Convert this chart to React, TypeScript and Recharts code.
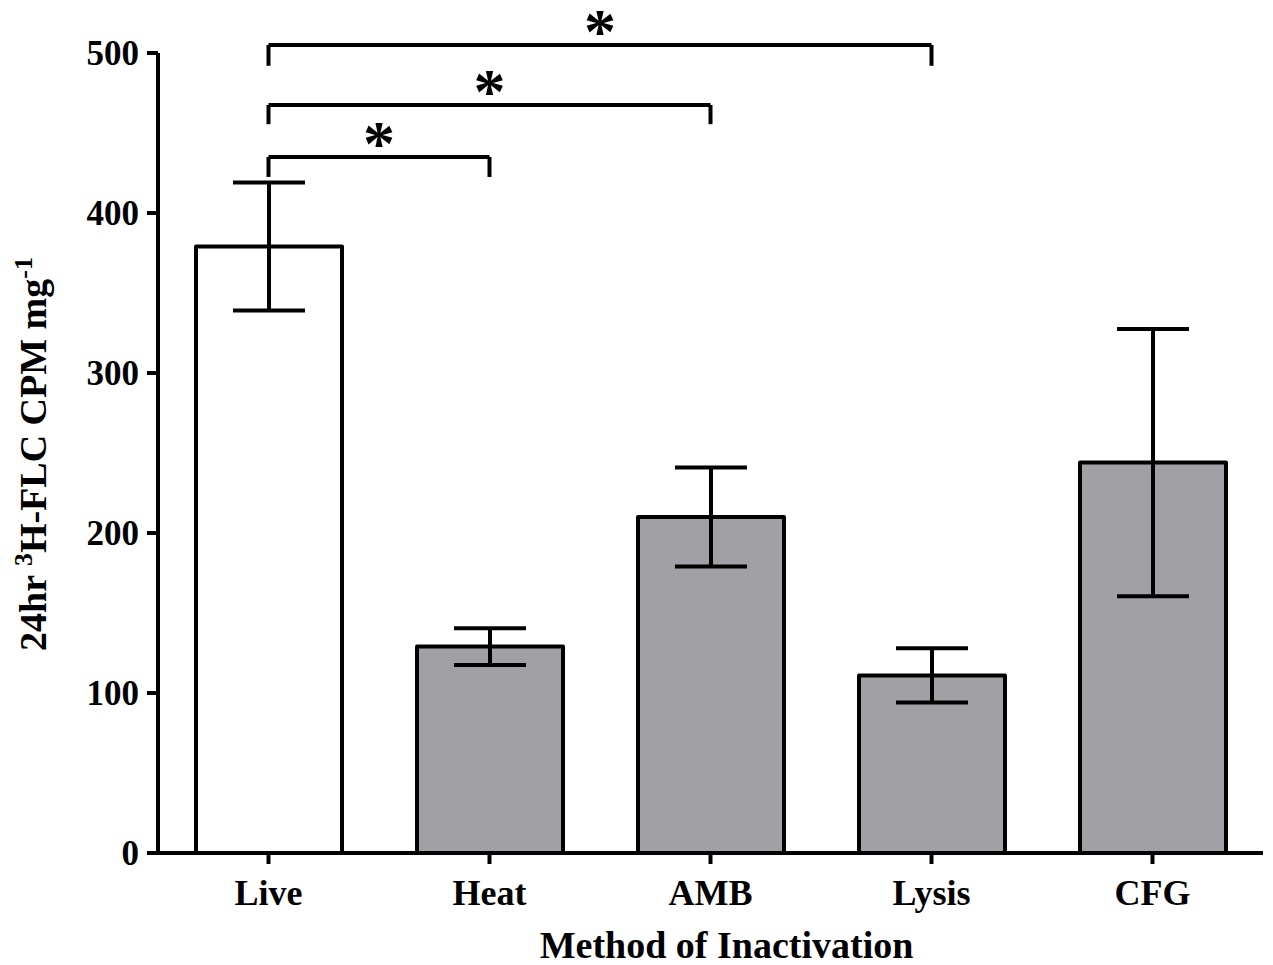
import { Bar, BarChart, Cell, ErrorBar, ReferenceLine, XAxis, YAxis } from 'recharts';

const categories = ['Live', 'Heat', 'AMB', 'Lysis', 'CFG'];
const means = [379, 129, 210, 111, 244];
const errors = [40, 11.5, 31, 17, 83.5];
const yTicks = [0, 100, 200, 300, 400, 500];

// significance brackets: [from, to, bar height, end drop]
const brackets: [string, string, number, number][] = [
  ['Live', 'Heat', 435, 422.5],
  ['Live', 'AMB', 467.5, 455.5],
  ['Live', 'Lysis', 505, 492],
];

const data = categories.map((name, i) => ({ name, mean: means[i], err: errors[i] }));

const FONT = '"Liberation Serif", "Times New Roman", serif';
const GRAY = '#a1a0a5';

function YTitle() {
  return (
    <text
      transform="translate(46, 454) rotate(-90)"
      textAnchor="middle"
      fontFamily={FONT}
      fontWeight={700}
      fontSize={38}
      fill="#000"
    >
      <tspan>24hr </tspan>
      <tspan fontSize={26} dy={-14}>3</tspan>
      <tspan dy={14}>H-FLC CPM mg</tspan>
      <tspan fontSize={26} dy={-14}>-1</tspan>
    </text>
  );
}

export default function App(): JSX.Element {
  return (
    <div style={{ position: 'absolute', left: 0, top: 0, background: '#fff' }}>
      <BarChart
        width={1273}
        height={965}
        data={data}
        margin={{ top: 53, right: 10, bottom: 0, left: 0 }}
      >
        <XAxis
          dataKey="name"
          height={112}
          axisLine={{ stroke: '#000', strokeWidth: 4 }}
          tickLine={{ stroke: '#000', strokeWidth: 4 }}
          tickSize={11}
          tickMargin={15}
          tick={{ fill: '#000', fontSize: 36, fontWeight: 700, fontFamily: FONT }}
          label={{
            value: 'Method of Inactivation',
            position: 'insideBottom',
            offset: 7,
            dx: 16,
            style: { fill: '#000', fontSize: 38, fontWeight: 700, fontFamily: FONT },
          }}
        />
        <YAxis
          width={158}
          domain={[0, 500]}
          ticks={yTicks}
          interval={0}
          axisLine={{ stroke: '#000', strokeWidth: 4 }}
          tickLine={{ stroke: '#000', strokeWidth: 4 }}
          tickSize={11}
          tickMargin={8}
          tick={{ fill: '#000', fontSize: 35, fontWeight: 700, fontFamily: FONT }}
          label={{ content: () => <YTitle /> }}
        />
        <Bar
          dataKey="mean"
          barSize={146}
          stroke="#000"
          strokeWidth={4}
          strokeLinejoin="round"
          isAnimationActive={false}
        >
          {data.map((d) => (
            <Cell key={d.name} fill={d.name === 'Live' ? '#fff' : GRAY} />
          ))}
          <ErrorBar dataKey="err" width={36} stroke="#000" strokeWidth={4} isAnimationActive={false} />
        </Bar>
        {brackets.map(([from, to, top, drop]) => [
          <ReferenceLine
            key={`${to}-h`}
            segment={[{ x: from, y: top }, { x: to, y: top }]}
            stroke="#000"
            strokeWidth={4}
            ifOverflow="visible"
            label={{
              value: '*',
              position: 'top',
              offset: -8,
              style: { fill: '#000', fontSize: 64, fontWeight: 700, fontFamily: FONT },
            }}
          />,
          <ReferenceLine
            key={`${to}-l`}
            segment={[{ x: from, y: top }, { x: from, y: drop }]}
            stroke="#000"
            strokeWidth={4}
            ifOverflow="visible"
          />,
          <ReferenceLine
            key={`${to}-r`}
            segment={[{ x: to, y: top }, { x: to, y: drop }]}
            stroke="#000"
            strokeWidth={4}
            ifOverflow="visible"
          />,
        ])}
      </BarChart>
    </div>
  );
}
